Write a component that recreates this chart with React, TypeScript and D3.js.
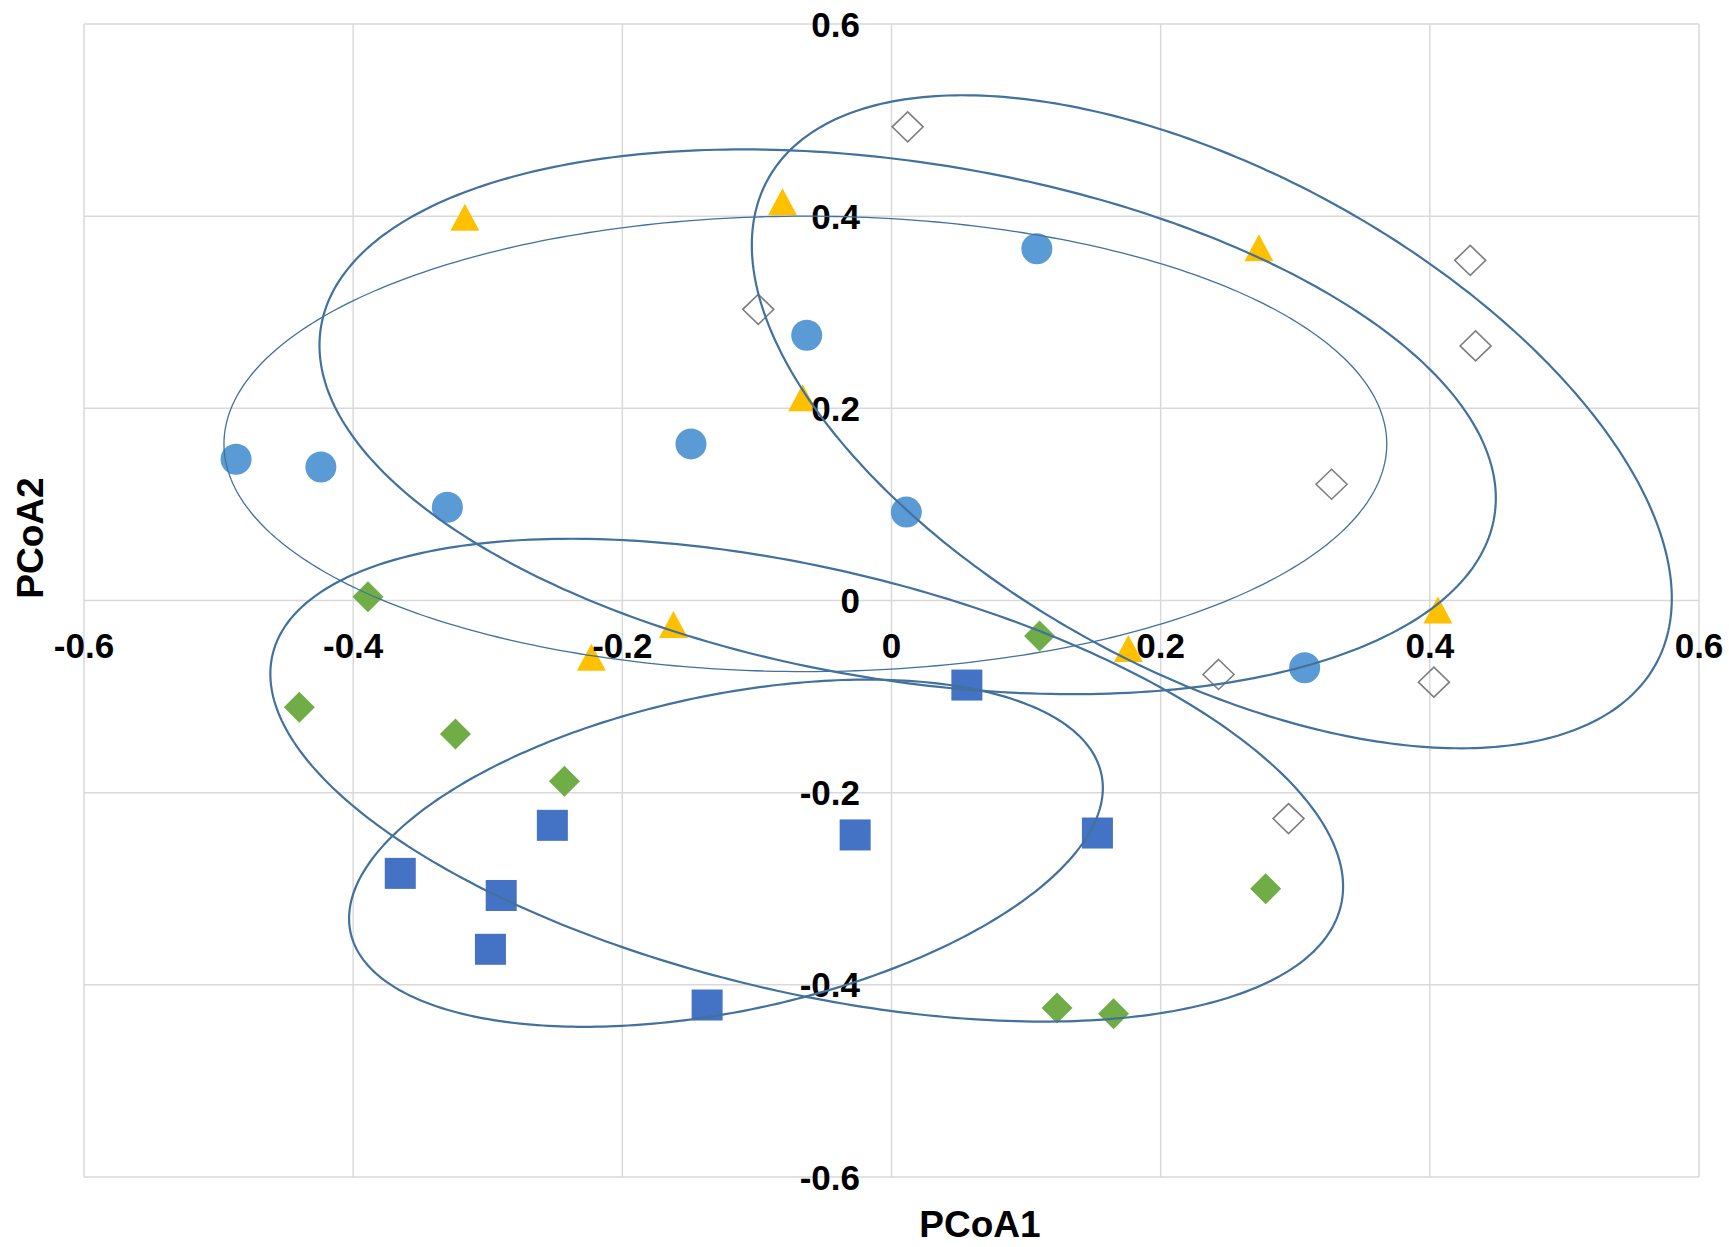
import React from "react";
import * as d3 from "d3";

// axis ticks (both axes use the same values)
const ticks = [-0.6, -0.4, -0.2, 0, 0.2, 0.4, 0.6];
const tickLabels = ["-0.6", "-0.4", "-0.2", "0", "0.2", "0.4", "0.6"];

// sample scores [PCoA1, PCoA2]
const circles: [number, number][] = [
  [-0.487, 0.147], [-0.424, 0.139], [-0.33, 0.097], [-0.149, 0.163],
  [-0.063, 0.276], [0.108, 0.366], [0.011, 0.092], [0.307, -0.07],
];
const triangles: [number, number][] = [
  [-0.317, 0.399], [-0.081, 0.415], [-0.066, 0.211], [0.273, 0.367],
  [-0.162, -0.025], [-0.223, -0.059], [0.176, -0.05], [0.406, -0.01],
];
const openDiamonds: [number, number][] = [
  [0.012, 0.493], [-0.099, 0.303], [0.43, 0.354], [0.434, 0.265],
  [0.327, 0.121], [0.243, -0.077], [0.403, -0.085], [0.295, -0.227],
];
const greenDiamonds: [number, number][] = [
  [-0.389, 0.004], [-0.44, -0.111], [-0.324, -0.139], [-0.243, -0.188],
  [0.11, -0.037], [0.278, -0.3], [0.123, -0.424], [0.165, -0.43],
];
const squares: [number, number][] = [
  [0.056, -0.088], [-0.252, -0.234], [-0.027, -0.244], [0.153, -0.242],
  [-0.365, -0.284], [-0.29, -0.307], [-0.298, -0.363], [-0.137, -0.421],
];

// group ellipses: centre and two conjugate semi-axis vectors, in data units
const ellipses = [
  { cx: -0.064, cy: 0.163, ux: 0.432, uy: 0, vx: 0, vy: -0.237 },
  { cx: 0.012, cy: 0.186, ux: 0.436, uy: -0.098, vx: -0.03, vy: -0.266 },
  { cx: 0.238, cy: 0.186, ux: 0.33, uy: -0.252, vx: -0.089, vy: -0.228 },
  { cx: -0.063, cy: -0.187, ux: 0.397, uy: -0.13, vx: -0.035, vy: -0.215 },
  { cx: -0.123, cy: -0.263, ux: 0.279, uy: 0.082, vx: 0.024, vy: -0.161 },
];
const ellipseWidths = [1.3, 2.2, 2.2, 2.2, 2.2];

const W = 1729;
const H = 1247;
const font = "'Liberation Sans', Arial, sans-serif";

export default function App() {
  const x = d3.scaleLinear().domain([-0.6, 0.6]).range([84, 1699]);
  const y = d3.scaleLinear().domain([-0.6, 0.6]).range([1177, 24]);

  const line = d3
    .line<[number, number]>()
    .x((d) => x(d[0]))
    .y((d) => y(d[1]))
    .curve(d3.curveLinearClosed);

  const ellipsePath = (e: (typeof ellipses)[number]) => {
    const pts = d3.range(0, 2 * Math.PI, Math.PI / 180).map((t) => [
      e.cx + e.ux * Math.cos(t) + e.vx * Math.sin(t),
      e.cy + e.uy * Math.cos(t) + e.vy * Math.sin(t),
    ]) as [number, number][];
    return line(pts) || "";
  };

  const diamond = (w: number, h: number) =>
    `M0,${-h / 2}L${w / 2},0L0,${h / 2}L${-w / 2},0Z`;
  const triangle = (w: number, h: number) =>
    `M0,${-h / 2}L${w / 2},${h / 2}L${-w / 2},${h / 2}Z`;

  return (
    <svg
      width={W}
      height={H}
      style={{ position: "absolute", left: 0, top: 0, background: "#fff" }}
    >
      <rect width={W} height={H} fill="#fff" />
      {/* grid */}
      <g stroke="#d9d9d9" strokeWidth={1.5}>
        {ticks.map((t) => (
          <line key={"v" + t} x1={x(t)} x2={x(t)} y1={y(0.6)} y2={y(-0.6)} />
        ))}
        {ticks.map((t) => (
          <line key={"h" + t} x1={x(-0.6)} x2={x(0.6)} y1={y(t)} y2={y(t)} />
        ))}
      </g>

      {/* markers */}
      <g fill="#5b9bd5">
        {circles.map((d, i) => (
          <circle key={i} cx={x(d[0])} cy={y(d[1])} r={15.5} />
        ))}
      </g>
      <g fill="#ffc000">
        {triangles.map((d, i) => (
          <path key={i} d={triangle(29, 27)} transform={`translate(${x(d[0])},${y(d[1])})`} />
        ))}
      </g>
      <g fill="none" stroke="#7f7f7f" strokeWidth={1.6}>
        {openDiamonds.map((d, i) => (
          <path key={i} d={diamond(31, 30)} transform={`translate(${x(d[0])},${y(d[1])})`} />
        ))}
      </g>
      <g fill="#70ad47">
        {greenDiamonds.map((d, i) => (
          <path key={i} d={diamond(31, 31)} transform={`translate(${x(d[0])},${y(d[1])})`} />
        ))}
      </g>
      <g fill="#4472c4">
        {squares.map((d, i) => (
          <rect key={i} x={x(d[0]) - 15.5} y={y(d[1]) - 15.5} width={31} height={31} />
        ))}
      </g>

      {/* tick labels */}
      <g fontFamily={font} fontWeight="bold" fontSize={35} fill="#000">
        {ticks.map((t, i) => (
          <text key={"xl" + t} x={x(t)} y={658} textAnchor="middle">
            {tickLabels[i]}
          </text>
        ))}
        {ticks.map((t, i) => (
          <text key={"yl" + t} x={860} y={y(t) + 12.5} textAnchor="end">
            {tickLabels[i]}
          </text>
        ))}
      </g>

      {/* axis titles */}
      <g fontFamily={font} fontWeight="bold" fontSize={37} fill="#000">
        <text x={980} y={1237} textAnchor="middle">PCoA1</text>
        <text transform="translate(43,538) rotate(-90)" textAnchor="middle">PCoA2</text>
      </g>

      {/* ellipses */}
      <g fill="none" stroke="#41719c">
        {ellipses.map((e, i) => (
          <path key={i} d={ellipsePath(e)} strokeWidth={ellipseWidths[i]} />
        ))}
      </g>
    </svg>
  );
}
